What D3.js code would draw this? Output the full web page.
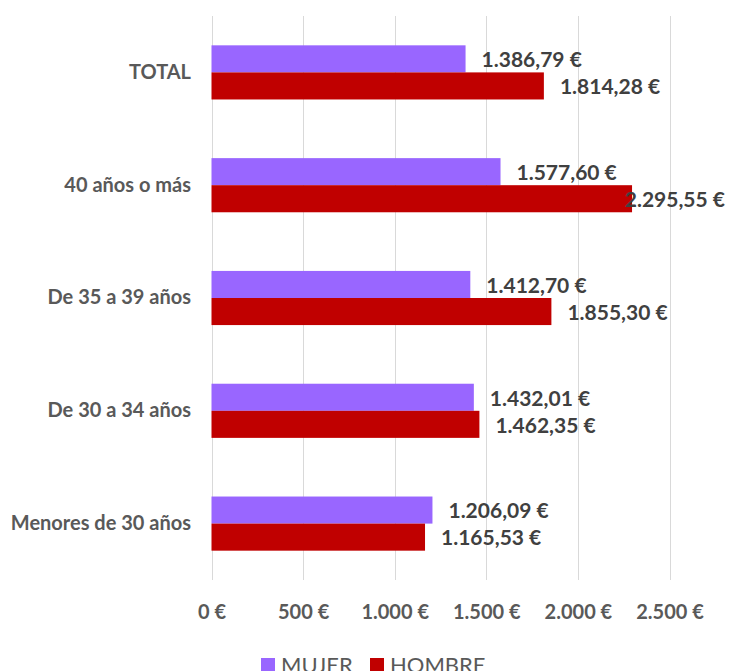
<!DOCTYPE html>
<html lang="es">

<head>
    <meta charset="utf-8">
    <title>Salario por edad y sexo</title>
    <script type="text/javascript" src="https://d3js.org/d3.v7.min.js"></script>
    <style type="text/css">
        body {
            margin: 0;
            background: #fff;
        }

        text {
            font-family: Lato, "Open Sans", sans-serif;
        }

        .grid line {
            stroke: #d9d9d9;
            stroke-width: 1;
        }
    </style>
</head>

<body>
    <script type="text/javascript">

        // data
        var categories = ["TOTAL", "40 años o más", "De 35 a 39 años", "De 30 a 34 años", "Menores de 30 años"];
        var series = ["MUJER", "HOMBRE"];
        var mujer = [1386.79, 1577.60, 1412.70, 1432.01, 1206.09];
        var hombre = [1814.28, 2295.55, 1855.30, 1462.35, 1165.53];
        var xTicks = [0, 500, 1000, 1500, 2000, 2500];
        var colors = ["#9966ff", "#c00000"];

        var w = 729;
        var h = 671;
        var fontSize = 20;

        var rows = categories.map(function (c, i) {
            return { cat: c, values: [mujer[i], hombre[i]] };
        });

        var fmt = function (d, dec) {
            var s = d.toFixed(dec).split(".");
            var ent = s[0].replace(/\B(?=(\d{3})+(?!\d))/g, ".");
            return (dec > 0 ? ent + "," + s[1] : ent) + " €";
        };

        // scales
        var xScale = d3.scaleLinear()
            .domain([0, 2500])
            .range([211.5, 669.5]);

        var yScale = d3.scaleBand()
            .domain(categories)
            .range([16, 580])
            .paddingInner(0.52)
            .paddingOuter(0.26);

        var ySub = d3.scaleBand()
            .domain(series)
            .range([0, yScale.bandwidth()]);

        var svg = d3.select("body")
            .append("svg")
            .attr("width", w)
            .attr("height", h);

        // gridlines
        svg.append("g")
            .attr("class", "grid")
            .selectAll("line")
            .data(xTicks)
            .enter()
            .append("line")
            .attr("x1", function (d) { return Math.round(xScale(d)) + 0.5; })
            .attr("x2", function (d) { return Math.round(xScale(d)) + 0.5; })
            .attr("y1", 16)
            .attr("y2", 580);

        // x axis labels
        var xAxis = d3.axisBottom(xScale)
            .tickValues(xTicks)
            .tickSize(0)
            .tickPadding(0)
            .tickFormat(function (d) { return fmt(d, 0); });

        var gx = svg.append("g")
            .attr("transform", "translate(0,612)")
            .call(xAxis);
        gx.select(".domain").remove();
        gx.selectAll("text")
            .attr("dy", "0.35em")
            .attr("y", 0)
            .style("font-size", fontSize + "px")
            .style("font-weight", "bold")
            .style("fill", "#595959");

        // y axis labels
        var yAxis = d3.axisLeft(yScale)
            .tickSize(0)
            .tickPadding(0);

        var gy = svg.append("g")
            .attr("transform", "translate(191,0)")
            .call(yAxis);
        gy.select(".domain").remove();
        gy.selectAll("text")
            .style("font-size", fontSize + "px")
            .style("font-weight", "bold")
            .style("fill", "#595959");

        // bars
        var groups = svg.selectAll(".cat")
            .data(rows)
            .enter()
            .append("g")
            .attr("class", "cat")
            .attr("transform", function (d) { return "translate(0," + yScale(d.cat) + ")"; });

        groups.selectAll("rect")
            .data(function (d) { return d.values; })
            .enter()
            .append("rect")
            .attr("x", xScale(0))
            .attr("y", function (d, i) { return ySub(series[i]); })
            .attr("width", function (d) { return xScale(d) - xScale(0); })
            .attr("height", ySub.bandwidth())
            .attr("fill", function (d, i) { return colors[i]; });

        // data labels
        groups.selectAll(".lbl")
            .data(function (d) { return d.values; })
            .enter()
            .append("text")
            .attr("class", "lbl")
            .attr("y", function (d, i) { return ySub(series[i]) + ySub.bandwidth() / 2 + 1; })
            .attr("dy", "0.35em")
            .style("font-size", (fontSize + 1) + "px")
            .style("font-weight", "bold")
            .style("fill", "#404040")
            .text(function (d) { return fmt(d, 2); })
            .attr("x", function (d) {
                var len = this.getComputedTextLength();
                return Math.min(xScale(d) + 16, 725 - len);
            });

        // legend
        var legend = svg.append("g")
            .attr("transform", "translate(261,658)");
        var legX = [0, 109];
        series.forEach(function (s, i) {
            legend.append("rect")
                .attr("x", legX[i])
                .attr("y", 0)
                .attr("width", 14)
                .attr("height", 14)
                .attr("fill", colors[i]);
            legend.append("text")
                .attr("x", legX[i] + 20)
                .attr("y", 15)
                .style("font-size", (fontSize + 2) + "px")
                .style("fill", "#595959")
                .text(s);
        });
    </script>
</body>
</html>
